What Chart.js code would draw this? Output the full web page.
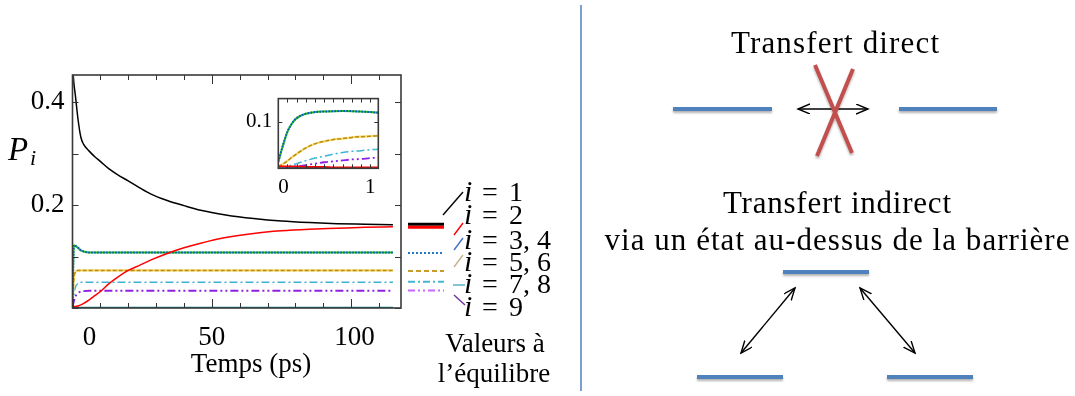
<!DOCTYPE html>
<html>
<head>
<meta charset="utf-8">
<script src="https://cdn.jsdelivr.net/npm/chart.js@4.4.1/dist/chart.umd.min.js"></script>
<style>
  html, body { margin: 0; padding: 0; background: #fff; }
  #wrap { position: relative; width: 1075px; height: 396px; overflow: hidden; }
  #main { position: absolute; left: 0; top: 0; }
  #inset { position: absolute; left: 220px; top: 80px; }
  #scheme { position: absolute; left: 0; top: 0; pointer-events: none; }
</style>
</head>
<body>
<div id="wrap">
  <canvas id="main" width="580" height="396"></canvas>
  <canvas id="inset" width="170" height="120"></canvas>
  <svg id="scheme" width="1075" height="396">
    <defs>
      <marker id="head" markerWidth="14" markerHeight="12" refX="12" refY="5" orient="auto-start-reverse" markerUnits="userSpaceOnUse">
        <path d="M0,0 L12,5 L0,10" fill="none" stroke="#000" stroke-width="1.4"/>
      </marker>
      <filter id="shadow" x="-20%" y="-50%" width="140%" height="200%">
        <feDropShadow dx="0" dy="2" stdDeviation="1.2" flood-color="#000" flood-opacity="0.3"/>
      </filter>
    </defs>
    <line x1="581" y1="5" x2="581" y2="391" stroke="#4f81bd" stroke-width="1.5"/>
    <g font-family="'Liberation Serif', serif" font-size="31" text-anchor="middle" fill="#000">
      <text x="835" y="53" textLength="208" lengthAdjust="spacing">Transfert direct</text>
      <text x="837" y="213" textLength="228" lengthAdjust="spacing">Transfert indirect</text>
      <text x="837" y="250" textLength="465" lengthAdjust="spacing">via un état au-dessus de la barrière</text>
    </g>
    <g stroke="#4f81bd" stroke-width="4" filter="url(#shadow)">
      <line x1="673" y1="109" x2="772" y2="109"/>
      <line x1="899" y1="109" x2="997" y2="109"/>
      <line x1="783" y1="272" x2="869" y2="272"/>
      <line x1="697" y1="377" x2="783" y2="377"/>
      <line x1="887" y1="377" x2="973" y2="377"/>
    </g>
    <g stroke="#000" stroke-width="1.4" marker-start="url(#head)" marker-end="url(#head)">
      <line x1="798" y1="109" x2="868" y2="109"/>
      <line x1="795" y1="288" x2="741" y2="353"/>
      <line x1="860" y1="288" x2="915" y2="353"/>
    </g>
    <g stroke="#c0504d" stroke-width="4" filter="url(#shadow)">
      <line x1="815" y1="65" x2="852" y2="153"/>
      <line x1="853" y1="69" x2="817" y2="156"/>
    </g>
  </svg>
</div>
<script>
// time axis of the main plot (ps) and populations
const tMain = [0, 0.5, 1, 2, 3, 4, 6, 8, 10, 13, 16, 20, 24, 28, 34, 40, 46, 55, 65, 75, 85, 95, 105, 115];
const p1  = [0.475, 0.437, 0.415, 0.366, 0.332, 0.318, 0.305, 0.294, 0.285, 0.271, 0.260, 0.247, 0.234, 0.222, 0.209, 0.199, 0.190, 0.181, 0.174, 0.169, 0.166, 0.164, 0.163, 0.162];
const p2  = [0.003, 0.003, 0.003, 0.004, 0.006, 0.009, 0.016, 0.024, 0.032, 0.047, 0.059, 0.073, 0.083, 0.093, 0.106, 0.117, 0.126, 0.137, 0.145, 0.150, 0.153, 0.155, 0.157, 0.158];
const p34 = [0.014, 0.122, 0.121, 0.117, 0.112, 0.110, 0.108, 0.108, 0.108, 0.108, 0.108, 0.108, 0.108, 0.108, 0.108, 0.108, 0.108, 0.108, 0.108, 0.108, 0.108, 0.108, 0.108, 0.108];
const p56 = [0.004, 0.058, 0.069, 0.073, 0.073, 0.073, 0.073, 0.073, 0.073, 0.073, 0.073, 0.073, 0.073, 0.073, 0.073, 0.073, 0.073, 0.073, 0.073, 0.073, 0.073, 0.073, 0.073, 0.073];
const p78 = [0.003, 0.026, 0.040, 0.048, 0.050, 0.050, 0.050, 0.050, 0.050, 0.050, 0.050, 0.050, 0.050, 0.050, 0.050, 0.050, 0.050, 0.050, 0.050, 0.050, 0.050, 0.050, 0.050, 0.050];
const p9  = [0.002, 0.013, 0.022, 0.029, 0.032, 0.033, 0.0335, 0.0335, 0.0335, 0.0335, 0.0335, 0.0335, 0.0335, 0.0335, 0.0335, 0.0335, 0.0335, 0.0335, 0.0335, 0.0335, 0.0335, 0.0335, 0.0335, 0.0335];
const pLow = [0.001, 0.001, 0.001, 0.001, 0.001, 0.001, 0.001, 0.001, 0.001, 0.001, 0.001, 0.001, 0.001, 0.001, 0.001, 0.001, 0.001, 0.001, 0.001, 0.001, 0.001, 0.001, 0.001, 0.001];

// inset: first picosecond
const tInset = [0, 0.05, 0.1, 0.15, 0.2, 0.3, 0.4, 0.5, 0.6, 0.7, 0.8, 0.9, 1.0, 1.09];
const q2  = [0.004, 0.004, 0.004, 0.004, 0.004, 0.003, 0.003, 0.003, 0.002, 0.002, 0.002, 0.002, 0.002, 0.002];
const q34 = [0.014, 0.049, 0.079, 0.097, 0.108, 0.1175, 0.121, 0.1222, 0.1229, 0.1233, 0.123, 0.122, 0.121, 0.1198];
const q56 = [0.004, 0.009, 0.016, 0.024, 0.031, 0.044, 0.053, 0.058, 0.062, 0.064, 0.0665, 0.068, 0.069, 0.070];
const q78 = [0.003, 0.003, 0.005, 0.007, 0.010, 0.0165, 0.022, 0.026, 0.0305, 0.034, 0.0365, 0.038, 0.040, 0.041];
const q9  = [0.002, 0.002, 0.003, 0.003, 0.004, 0.007, 0.010, 0.013, 0.015, 0.017, 0.019, 0.020, 0.022, 0.023];
const qLow = [0.0005, 0.0005, 0.0005, 0.0005, 0.0005, 0.0005, 0.0005, 0.0005, 0.0005, 0.0005, 0.0005, 0.0005, 0.0005, 0.0005];

// equilibrium values shown right of the plot (i=1, 2, 3-4, 5-6, 7-8, 9)
const eqValues = [0.163, 0.157, 0.107, 0.072, 0.051, 0.034];
const legendLabels = ['1', '2', '3, 4', '5, 6', '7, 8', '9'];

const SERIF = '"Liberation Serif", "Times New Roman", serif';

const pts = (ts, vs) => ts.map((t, k) => ({ x: t, y: vs[k] }));

function curve(ts, vs, color, dash, width) {
  return {
    data: pts(ts, vs),
    borderColor: color,
    borderWidth: width || 1.5,
    borderDash: dash || [],
    pointRadius: 0,
    fill: false,
    cubicInterpolationMode: 'monotone',
    clip: 0
  };
}

// frame + inward ticks on all four sides
const framePlugin = {
  id: 'frame',
  afterDraw(chart, args, opts) {
    const { ctx, chartArea: a, scales: { x, y } } = chart;
    ctx.save();
    ctx.strokeStyle = '#333';
    ctx.lineWidth = 1;
    ctx.beginPath();
    x.ticks.forEach(t => {
      const px = Math.round(x.getPixelForValue(t.value)) + 0.5;
      const len = Math.abs(t.value % opts.major) < 1e-6 ? opts.long : opts.short;
      ctx.moveTo(px, a.bottom); ctx.lineTo(px, a.bottom - len);
      ctx.moveTo(px, a.top); ctx.lineTo(px, a.top + len);
    });
    y.ticks.forEach(t => {
      const py = Math.round(y.getPixelForValue(t.value)) + 0.5;
      ctx.moveTo(a.left, py); ctx.lineTo(a.left + opts.ylen, py);
      ctx.moveTo(a.right, py); ctx.lineTo(a.right - opts.ylen, py);
    });
    ctx.stroke();
    ctx.lineWidth = 1.6;
    ctx.strokeStyle = '#3a3a3a';
    ctx.strokeRect(a.left, a.top, a.right - a.left, a.bottom - a.top);
    ctx.restore();
  }
};

// equilibrium markers, legend and axis texts of the main plot
const sidePlugin = {
  id: 'side',
  afterDraw(chart) {
    const { ctx, scales: { y } } = chart;
    ctx.save();
    const styles = [
      { c: '#000', d: [], w: 3 },
      { c: '#ff0000', d: [], w: 3 },
      { c: '#1f78c8', d: [2, 2], w: 2 },
      { c: '#c89a2a', d: [5, 3], w: 2 },
      { c: '#45b5d5', d: [7, 3, 2, 3], w: 2 },
      { c: '#c866ff', d: [7, 3, 2, 3, 2, 3], w: 2 }
    ];
    eqValues.forEach((v, k) => {
      const py = y.getPixelForValue(v);
      ctx.strokeStyle = styles[k].c;
      ctx.lineWidth = styles[k].w;
      ctx.setLineDash(styles[k].d);
      ctx.beginPath();
      ctx.moveTo(408, py); ctx.lineTo(444, py);
      ctx.stroke();
    });
    ctx.setLineDash([]);

    // leaders from the markers to the labels
    const leaders = [
      ['#000', 443, 215, 463, 192], ['#ff0000', 454, 235, 463, 223],
      ['#4472c4', 454, 250, 463, 238], ['#c4b48a', 454, 267, 463, 255],
      ['#4bacc6', 453, 285, 465, 285], ['#7030a0', 454, 295, 465, 305]
    ];
    ctx.lineWidth = 1.4;
    leaders.forEach(([c, x1, y1, x2, y2]) => {
      ctx.strokeStyle = c;
      ctx.beginPath(); ctx.moveTo(x1, y1); ctx.lineTo(x2, y2); ctx.stroke();
    });

    const baselines = [201, 224, 249, 271, 293, 316];
    ctx.fillStyle = '#000';
    ctx.textBaseline = 'alphabetic';
    legendLabels.forEach((lab, k) => {
      ctx.textAlign = 'left';
      ctx.font = 'italic 30px ' + SERIF;
      ctx.fillText('i', 464, baselines[k]);
      ctx.font = '28px ' + SERIF;
      ctx.fillText('=', 482, baselines[k]);
      ctx.fillText(lab, 509, baselines[k]);
    });

    ctx.textAlign = 'center';
    ctx.font = '27px ' + SERIF;
    ctx.fillText('Valeurs à', 495, 352);
    ctx.fillText('l\u2019équilibre', 494, 382);
    ctx.fillText('Temps (ps)', 251, 372);

    ctx.textAlign = 'left';
    ctx.font = 'italic 33px ' + SERIF;
    ctx.fillText('P', 8, 160);
    ctx.font = 'italic 22px ' + SERIF;
    ctx.fillText('i', 30, 165);
    ctx.restore();
  }
};

const tickFont = { family: SERIF, size: 27 };

new Chart(document.getElementById('main'), {
  type: 'line',
  data: {
    datasets: [
      curve(tMain, p1, '#000000'),
      curve(tMain, p2, '#ff0000'),
      curve(tMain, p34, '#1050d0', [1.5, 1.5], 2),
      curve(tMain, p34, '#20c020', [], 2),
      curve(tMain, p56, '#c08a10', [4, 2]),
      curve(tMain, p56, '#f2dc6a', [], 2.2),
      curve(tMain, p78, '#3cb4d8', [8, 3, 2, 3]),
      curve(tMain, p9, '#9020e0', [8, 3, 2, 3, 2, 3], 1.8),
      curve(tMain, pLow, '#00868b', [], 1.5)
    ]
  },
  options: {
    responsive: false,
    animation: false,
    events: [],
    layout: { padding: { left: 0, top: 75, right: 179, bottom: 0 } },
    plugins: { legend: { display: false }, tooltip: { enabled: false }, frame: { major: 50, long: 9, short: 5, ylen: 6 } },
    scales: {
      x: {
        type: 'linear', min: 0, max: 117.9,
        grid: { display: false, drawTicks: false }, border: { display: false },
        ticks: {
          stepSize: 10, includeBounds: false, maxRotation: 0, autoSkip: false,
          padding: 14, color: '#000', font: tickFont,
          // the original sets its "0" a little right of the corner
          callback: v => (v === 0 ? '     0' : v === 50 ? '50' : v === 100 ? ' 100' : '')
        },
        afterFit: s => { s.height = 88; }
      },
      y: {
        type: 'linear', min: 0, max: 0.453,
        grid: { display: false, drawTicks: false }, border: { display: false },
        ticks: {
          stepSize: 0.1, includeBounds: false, padding: 8, color: '#000', font: tickFont,
          callback: v => (Math.abs(v - 0.2) < 1e-6 ? '0.2' : Math.abs(v - 0.4) < 1e-6 ? '0.4' : '')
        },
        afterFit: s => { s.width = 72.5; }
      }
    }
  },
  plugins: [framePlugin, sidePlugin]
});

const insetFont = { family: SERIF, size: 21 };

new Chart(document.getElementById('inset'), {
  type: 'line',
  data: {
    datasets: [
      curve(tInset, q2, '#ff0000', [], 1.8),
      curve(tInset, q34, '#1050d0', [1.5, 1.5], 2),
      curve(tInset, q34, '#20c020', [], 2),
      curve(tInset, q56, '#c08a10', [4, 2]),
      curve(tInset, q56, '#f2dc6a', [], 2.2),
      curve(tInset, q78, '#3cb4d8', [8, 3, 2, 3]),
      curve(tInset, q9, '#9020e0', [8, 3, 2, 3, 2, 3], 1.8),
      curve(tInset, qLow, '#00868b', [], 2)
    ]
  },
  options: {
    responsive: false,
    animation: false,
    events: [],
    layout: { padding: { left: 0, top: 7.3, right: 11.7, bottom: 0 } },
    plugins: { legend: { display: false }, tooltip: { enabled: false }, frame: { major: 1, long: 4, short: 4, ylen: 4 } },
    scales: {
      x: {
        type: 'linear', min: 0, max: 1.087,
        grid: { display: false, drawTicks: false }, border: { display: false },
        ticks: {
          stepSize: 0.1, includeBounds: false, maxRotation: 0, autoSkip: false,
          padding: 7, color: '#000', font: insetFont,
          callback: v => (Math.abs(v) < 1e-6 ? '  0' : Math.abs(v - 1) < 1e-6 ? '1' : '')
        },
        afterFit: s => { s.height = 31.7; }
      },
      y: {
        type: 'linear', min: 0, max: 0.15,
        grid: { display: false, drawTicks: false }, border: { display: false },
        ticks: {
          stepSize: 0.1, includeBounds: false, padding: 6, color: '#000', font: insetFont,
          callback: v => (Math.abs(v - 0.1) < 1e-6 ? '0.1' : '')
        },
        afterFit: s => { s.width = 58.3; }
      }
    }
  },
  plugins: [framePlugin]
});
</script>
</body>
</html>
